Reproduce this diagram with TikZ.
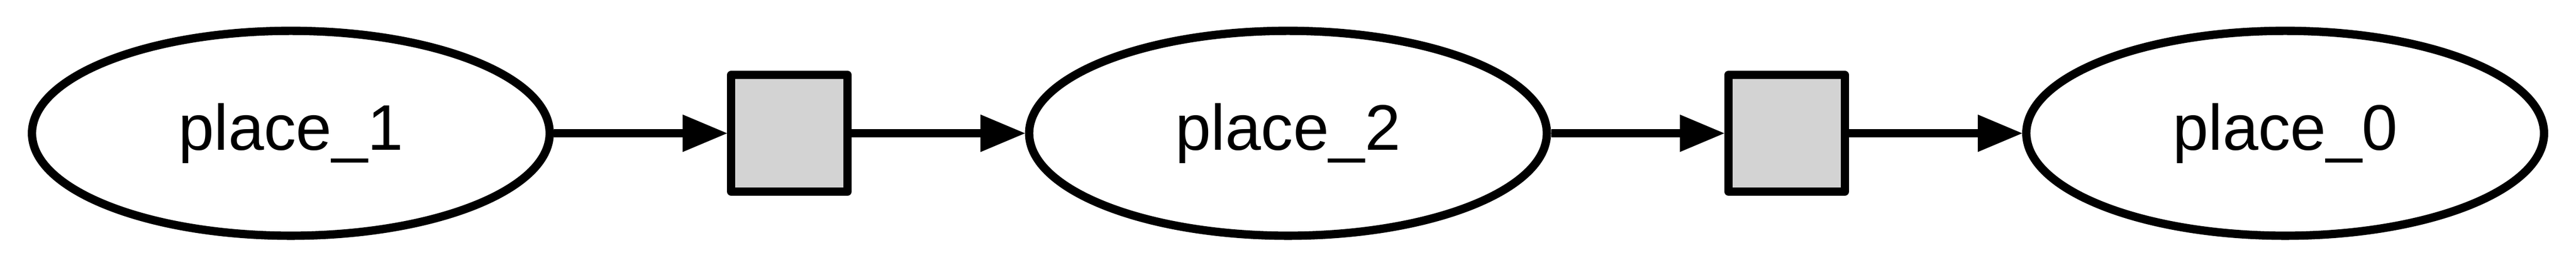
\documentclass[tikz,border=0pt]{standalone}
\usepackage{fontspec}
\setmainfont{Liberation Sans}
\usetikzlibrary{arrows.meta,shapes.geometric}
\definecolor{transgray}{HTML}{D3D3D3}

\begin{document}
\begin{tikzpicture}[line width=0.2cm, line join=round, font=\fontsize{44}{52}\selectfont, -{Triangle[length=1.07cm,width=.9cm,line width=0pt]},
	place/.style={draw, ellipse, inner sep=0pt, minimum width=12.46cm, minimum height=4.92cm},
	transition/.style={draw, fill=transgray, inner sep=0pt, minimum width=2.8cm, minimum height=2.8cm}]
	\useasboundingbox (0,0) rectangle (62,6.4);
	\node[place] (p1) at (7,3.2) {place\_1};
	\node[transition] (t1) at (19,3.2) {};
	\node[place] (p2) at (31,3.2) {place\_2};
	\node[transition] (t2) at (43,3.2) {};
	\node[place] (p0) at (55,3.2) {place\_0};
	\draw (p1) -- (t1);
	\draw (t1) -- (p2);
	\draw (p2) -- (t2);
	\draw (t2) -- (p0);
\end{tikzpicture}
\end{document}
